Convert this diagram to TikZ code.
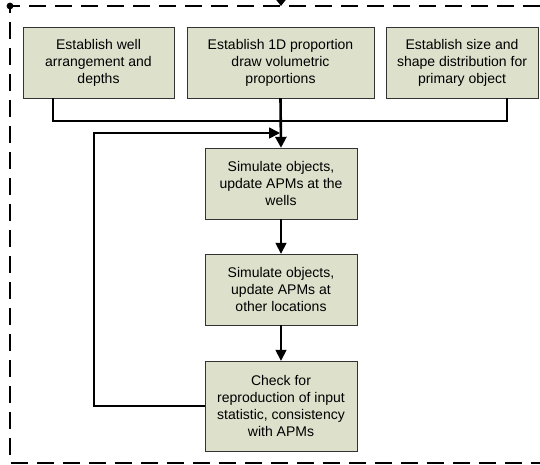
\documentclass[tikz,border=0pt]{standalone}
\usepackage{fontspec}
\setmainfont{Liberation Sans}
\usepackage{tikz}
\usetikzlibrary{arrows.meta, positioning}
\definecolor{stagecolor}{RGB}{221, 225, 204}

\begin{document}
\begin{tikzpicture}[
    x=1pt, y=-1pt,
    font=\fontsize{14}{17}\selectfont,
    stage/.style={draw=black!80, fill=stagecolor, align=center, inner sep=0pt, minimum height=71pt},
    link/.style={line width=1.6pt},
    arrow/.style={line width=1.6pt, -{Triangle[width=11pt, length=11pt]}},
    frame/.style={line width=1.6pt, dash pattern=on 17pt off 9pt}
]
\useasboundingbox (0,0) rectangle (540,464);

% Frame of the loop
\coordinate (corner) at (10,6);
\coordinate (entry) at (281,0);
\draw[frame] (540,6) -- (corner) -- (10,463) -- (540,463);
\fill (corner) circle (3.4pt);
\draw[link, -{Triangle[width=9pt, length=6pt]}] (entry) -- (entry |- corner);

% Inputs
\node[stage, minimum width=151pt] (well) at (98.5,62.5) {Establish well\\arrangement and\\depths};
\node[stage, minimum width=187pt] (prop) at (280.5,62.5) {Establish 1D proportion\\draw volumetric\\proportions};
\node[stage, minimum width=152pt] (shape) at (462,62.5) {Establish size and\\shape distribution for\\primary object};

% Simulation steps
\node[stage, minimum width=152pt] (simwell) at (281,183.5) {Simulate objects,\\update APMs at the\\wells};
\node[stage, minimum width=152pt] (simother) at (281,289.5) {Simulate objects,\\update APMs at\\other locations};
\node[stage, minimum width=152pt, minimum height=90pt] (check) at (281,406) {Check for\\reproduction of input\\statistic, consistency\\with APMs};

% Flow
\coordinate (merge) at (281,121);
\coordinate (loop) at (94,133);
\draw[link] ([xshift=-45.5pt]well.south) |- (merge) -| ([xshift=45pt]shape.south);
\draw[arrow, line width=2.6pt] (prop.south) -- (simwell.north);
\draw[arrow] (simwell) -- (simother);
\draw[arrow] (simother) -- (check);
\draw[arrow] (check.west) -| (loop) -- ([xshift=-1pt]loop -| simwell.north);

\end{tikzpicture}
\end{document}
